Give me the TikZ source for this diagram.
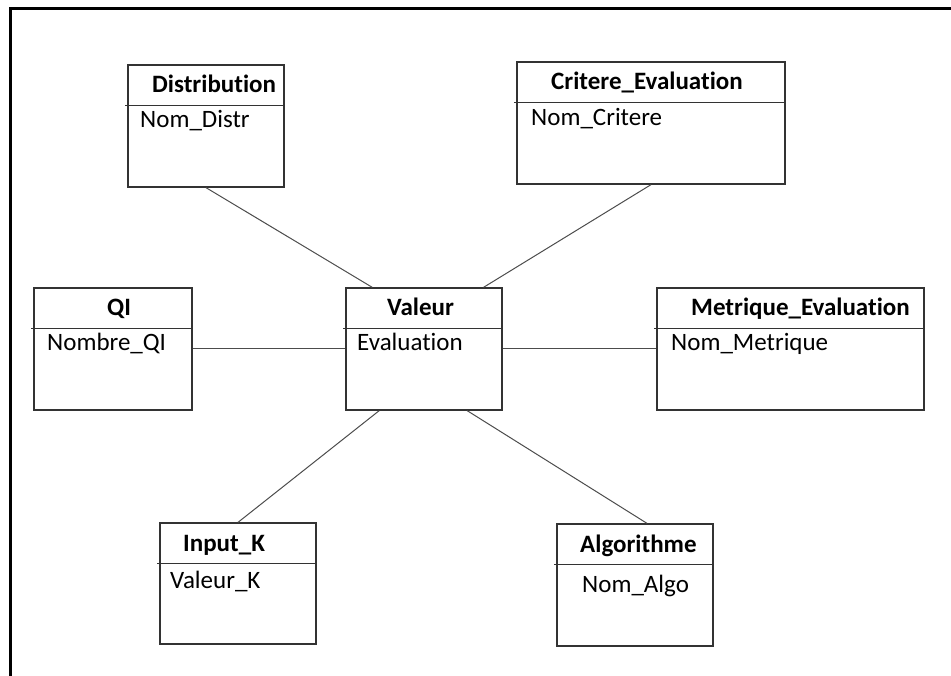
\documentclass[tikz,border=0pt]{standalone}
\usepackage{fontspec}
\setmainfont{Carlito}[Ligatures=NoCommon]
\usepackage{tikz}
\usetikzlibrary{calc}
\usetikzlibrary{positioning}

\begin{document}
\begin{tikzpicture}[x=1pt, y=-1pt,
  every node/.style={font=\fontsize{25}{30}\selectfont},
  cls/.style={rectangle, draw=black!80, line width=1.3pt, minimum height=122pt, inner sep=0pt},
  ttl/.style={anchor=base west, inner sep=0pt, font=\fontsize{25}{30}\selectfont\bfseries},
  attr/.style={anchor=base west, inner sep=0pt},
  sep/.style={draw=black!80, line width=1.1pt},
  link/.style={draw=black!70, line width=1pt}]
\useasboundingbox (0,0) rectangle (951,676);
% frame
\draw [line width=3pt] (10.5,676) -- (10.5,8.5) -- (951,8.5);

% tables
\node [cls, minimum width=156pt] (distr) at (206,126) {};
\node [cls, minimum width=268pt] (crit) at (651,123) {};
\node [cls, minimum width=158pt] (qi) at (113,349) {};
\node [cls, minimum width=156pt] (val) at (424,349) {};
\node [cls, minimum width=267pt] (metr) at (790.5,349) {};
\node [cls, minimum width=156pt, minimum height=121pt] (inK) at (238,583.5) {};
\node [cls, minimum width=156pt] (algo) at (635,585) {};

\foreach \b in {distr,crit,qi,val,metr,inK,algo}
  \draw [sep] ($(\b.north west)+(-2,41)$) -- ($(\b.north east)+(0,41)$);

% titles
\node [ttl] (distrT) at (152,93) {Distribution};
\node [ttl] (critT) at (551,90) {Critere\_Evaluation};
\node [ttl] (qiT) at (107,316) {QI};
\node [ttl] (valT) at (387,316) {Valeur};
\node [ttl] (metrT) at (691,316) {Metrique\_Evaluation};
\node [ttl] (inKT) at (183,551) {Input\_K};
\node [ttl] (algoT) at (580,552) {Algorithme};

% attributes
\node [attr] (distrA) at (140,128) {Nom\_Distr};
\node [attr] (critA) at (531,126) {Nom\_Critere};
\node [attr] (qiA) at (47,351) {Nombre\_QI};
\node [attr] (valA) at (357,351) {Evaluation};
\node [attr] (metrA) at (671,351) {Nom\_Metrique};
\node [attr] (inKA) at (170,588) {Valeur\_K};
\node [attr] (algoA) at (582,592) {Nom\_Algo};

% links
\draw [link] (distr.south) -- (val.130);
\draw [link] (crit.south) -- (val.46);
\draw [link] (qi.east |- qiA.mid) -- (val.west |- qiA.mid);
\draw [link] (val.east) -- (metr.west);
\draw [link] (val.234) -- (inK.north);
\draw [link] (val.305) -- (algo.79);
\end{tikzpicture}
\end{document}
